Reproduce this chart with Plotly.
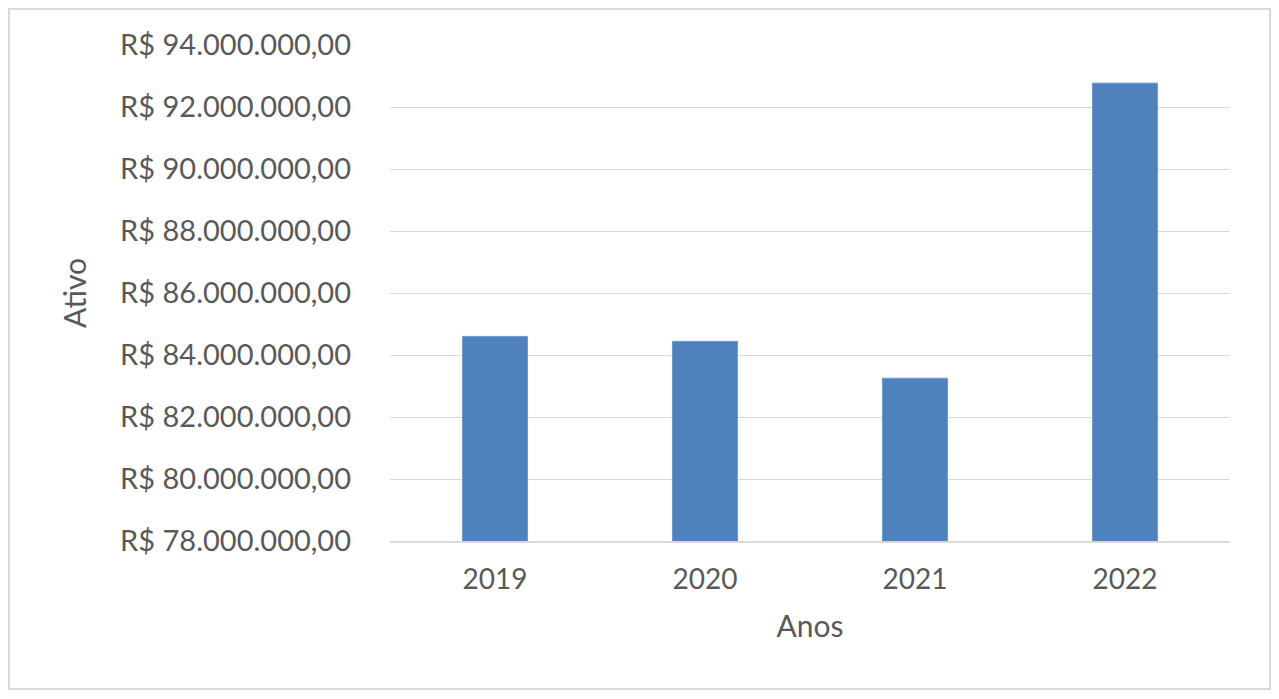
import plotly.graph_objects as go

anos = ["2019", "2020", "2021", "2022"]
ativo = [84600000, 84440000, 83250000, 92770000]
y_ticks = [78000000, 80000000, 82000000, 84000000, 86000000, 88000000, 90000000, 92000000, 94000000]

def brl(v):
    s = f"{v:,.2f}".replace(",", "X").replace(".", ",").replace("X", ".")
    return "R$ " + s

y_labels = [brl(v) for v in y_ticks]

OFF = 8  # default page body margin
W, H = 1279 - 2 * OFF, 699 - 2 * OFF
L, R, T, B = 390 - OFF, 1230 - OFF, 45 - OFF, 541 - OFF
FONT = "Lato"
GRAY = "#595959"

fig = go.Figure(go.Bar(x=anos, y=ativo,
                       marker=dict(color="#4F81BD", line=dict(color="#6E9BD0", width=1)),
                       width=0.31))

def px_x(p):
    return (p - OFF - L) / (R - L)

def px_y(p):
    return (B - (p - OFF)) / (B - T)

fig.add_shape(type="rect", xref="paper", yref="paper",
              x0=px_x(9), x1=px_x(1270), y0=px_y(689), y1=px_y(9),
              line=dict(color="#D9D9D9", width=2), fillcolor="rgba(0,0,0,0)", layer="below")

fig.update_layout(
    width=W, height=H,
    margin=dict(l=L, r=W - R, t=T, b=H - B, autoexpand=False),
    paper_bgcolor="white", plot_bgcolor="white",
    showlegend=False,
    font=dict(family=FONT, color=GRAY, size=28),
    xaxis=dict(showgrid=False, showline=True, linecolor="#D9D9D9", linewidth=1.5,
               tickfont=dict(size=28, color=GRAY), ticklabelstandoff=13,
               title=dict(text="Anos", font=dict(size=30, color=GRAY), standoff=22)),
    yaxis=dict(range=[78000000, 94000000], tickmode="array", tickvals=y_ticks, ticktext=y_labels,
               showgrid=True, gridcolor="#D9D9D9", gridwidth=1.2, zeroline=False, showline=False,
               tickfont=dict(size=29, color=GRAY), ticklabelstandoff=38,
               title=dict(text="Ativo", font=dict(size=30, color=GRAY), standoff=24)),
)

fig.write_html("out.html")
